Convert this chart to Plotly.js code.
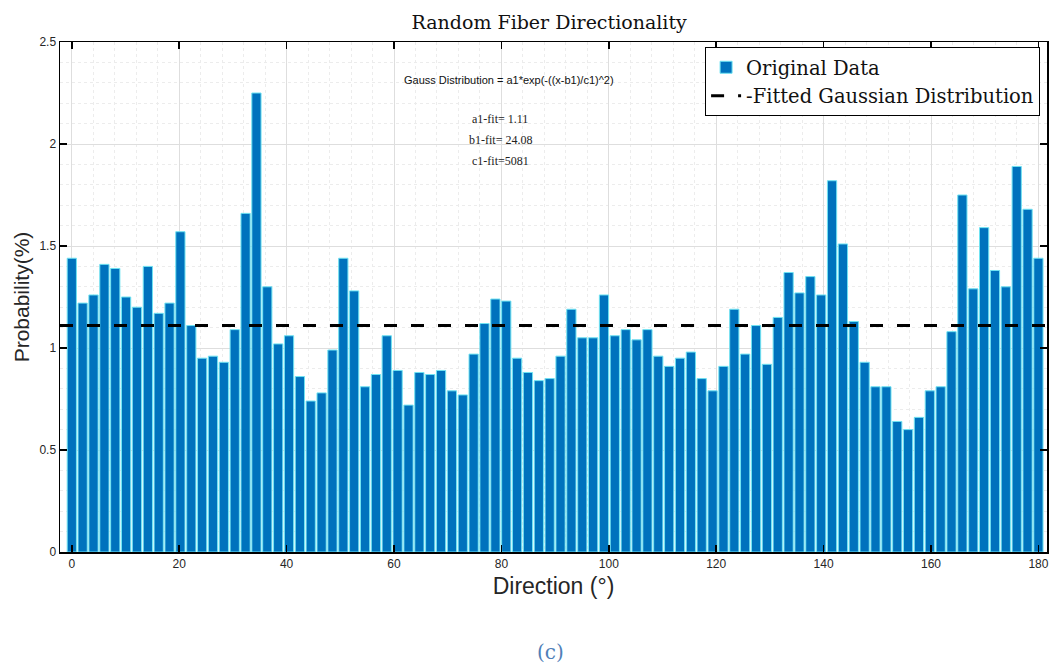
<!DOCTYPE html>
<html>
<head>
<meta charset="utf-8">
<script src="https://cdn.plot.ly/plotly-3.0.1.min.js"></script>
<style>
  html, body { margin: 0; padding: 0; background: #ffffff; }
  #chart { width: 1054px; height: 666px; }
</style>
</head>
<body>
<div id="chart"></div>
<script>
// Direction bins (degrees)
const directions = [0, 2.02, 4.04, 6.07, 8.09, 10.11, 12.13, 14.16, 16.18, 18.20,
  20.22, 22.25, 24.27, 26.29, 28.31, 30.34, 32.36, 34.38, 36.40, 38.43,
  40.45, 42.47, 44.49, 46.52, 48.54, 50.56, 52.58, 54.61, 56.63, 58.65,
  60.67, 62.70, 64.72, 66.74, 68.76, 70.79, 72.81, 74.83, 76.85, 78.88,
  80.90, 82.92, 84.94, 86.97, 88.99, 91.01, 93.03, 95.06, 97.08, 99.10,
  101.12, 103.15, 105.17, 107.19, 109.21, 111.24, 113.26, 115.28, 117.30, 119.33,
  121.35, 123.37, 125.39, 127.42, 129.44, 131.46, 133.48, 135.51, 137.53, 139.55,
  141.57, 143.60, 145.62, 147.64, 149.66, 151.69, 153.71, 155.73, 157.75, 159.78,
  161.80, 163.82, 165.84, 167.87, 169.89, 171.91, 173.93, 175.96, 177.98, 180];

// Probability (%) per bin
const probability = [1.44, 1.22, 1.26, 1.41, 1.39, 1.25, 1.20, 1.40, 1.17, 1.22,
  1.57, 1.11, 0.95, 0.96, 0.93, 1.09, 1.66, 2.25, 1.30, 1.02,
  1.06, 0.86, 0.74, 0.78, 0.99, 1.44, 1.28, 0.81, 0.87, 1.06,
  0.89, 0.72, 0.88, 0.87, 0.89, 0.79, 0.77, 0.97, 1.12, 1.24,
  1.23, 0.95, 0.88, 0.84, 0.85, 0.96, 1.19, 1.05, 1.05, 1.26,
  1.06, 1.09, 1.04, 1.09, 0.96, 0.91, 0.95, 0.98, 0.85, 0.79,
  0.91, 1.19, 0.97, 1.11, 0.92, 1.15, 1.37, 1.27, 1.35, 1.26,
  1.82, 1.51, 1.13, 0.93, 0.81, 0.81, 0.64, 0.60, 0.66, 0.79,
  0.81, 1.08, 1.75, 1.29, 1.59, 1.38, 1.30, 1.89, 1.68, 1.44];

// Fitted Gaussian (flat at a1 = 1.11 over the plotted range)
const fitX = [-2.2, 181.6];
const fitY = [1.11, 1.11];

const xTicks = [0, 20, 40, 60, 80, 100, 120, 140, 160, 180];
const yTicks = [0, 0.5, 1, 1.5, 2, 2.5];

const traces = [
  {
    type: 'bar',
    x: directions,
    y: probability,
    width: 1.72,
    name: 'Original Data',
    marker: { color: '#0072BD', line: { color: '#6fe3f2', width: 1 } },
    hoverinfo: 'x+y'
  },
  {
    type: 'scatter',
    mode: 'lines',
    x: fitX,
    y: fitY,
    name: '-Fitted Gaussian Distribution',
    line: { color: '#000000', width: 3, dash: '13px,14px' }
  }
];

const axisFont = { family: 'Liberation Sans Narrow, Liberation Sans, Arial, sans-serif', size: 12, color: '#262626' };

const layout = {
  width: 1054,
  height: 666,
  paper_bgcolor: '#ffffff',
  plot_bgcolor: '#ffffff',
  margin: { l: 60, r: 7, t: 42, b: 114 },
  showlegend: true,
  bargap: 0,
  title: {
    text: 'Random Fiber Directionality',
    font: { family: 'DejaVu Serif, Liberation Serif, serif', size: 19, color: '#111111' },
    x: 0.521, xanchor: 'center', y: 0.967, yanchor: 'middle'
  },
  xaxis: {
    range: [-2.2, 181.6],
    tickmode: 'array',
    tickvals: xTicks,
    ticktext: xTicks.map(String),
    ticks: 'inside',
    ticklen: 7,
    tickcolor: '#000000',
    tickwidth: 1.5,
    mirror: 'ticks',
    showline: true,
    linecolor: '#000000',
    linewidth: 1.5,
    showgrid: true,
    gridcolor: '#dedede',
    gridwidth: 1,
    minor: { dtick: 4, showgrid: true, gridcolor: '#ececec', griddash: 'dot', ticks: '' },
    zeroline: false,
    tickfont: axisFont,
    title: {
      text: 'Direction (°)',
      font: { family: 'Liberation Sans Narrow, Liberation Sans, Arial, sans-serif', size: 23, color: '#262626' },
      standoff: 8
    }
  },
  yaxis: {
    range: [0, 2.5],
    tickmode: 'array',
    tickvals: yTicks,
    ticktext: ['0', '0.5', '1', '1.5', '2', '2.5'],
    ticks: 'inside',
    ticklen: 7,
    tickcolor: '#000000',
    tickwidth: 1.5,
    mirror: 'ticks',
    showline: true,
    linecolor: '#000000',
    linewidth: 1.5,
    showgrid: true,
    gridcolor: '#dedede',
    gridwidth: 1,
    minor: { dtick: 0.1, showgrid: true, gridcolor: '#ececec', griddash: 'dot', ticks: '' },
    zeroline: false,
    tickfont: axisFont,
    title: {
      text: 'Probability(%)',
      font: { family: 'Liberation Sans, Arial, sans-serif', size: 21, color: '#262626' },
      standoff: 4
    }
  },
  legend: {
    x: 0.993, xanchor: 'right',
    y: 0.99, yanchor: 'top',
    bgcolor: '#ffffff',
    bordercolor: '#000000',
    borderwidth: 1,
    font: { family: 'DejaVu Serif, Liberation Serif, serif', size: 19.5, color: '#111111' },
    tracegroupgap: 0,
    itemwidth: 30
  },
  annotations: [
    {
      xref: 'paper', yref: 'paper', x: 0.455, y: 0.925, xanchor: 'center', yanchor: 'middle',
      text: 'Gauss Distribution = a1*exp(-((x-b1)/c1)^2)', showarrow: false,
      font: { family: 'Liberation Sans, Arial, sans-serif', size: 11, color: '#111111' }
    },
    {
      xref: 'paper', yref: 'paper', x: 0.446, y: 0.849, xanchor: 'center', yanchor: 'middle',
      text: 'a1-fit= 1.11', showarrow: false,
      font: { family: 'Liberation Serif, serif', size: 12, color: '#222222' }
    },
    {
      xref: 'paper', yref: 'paper', x: 0.446, y: 0.808, xanchor: 'center', yanchor: 'middle',
      text: 'b1-fit= 24.08', showarrow: false,
      font: { family: 'Liberation Serif, serif', size: 12, color: '#222222' }
    },
    {
      xref: 'paper', yref: 'paper', x: 0.446, y: 0.767, xanchor: 'center', yanchor: 'middle',
      text: 'c1-fit=5081', showarrow: false,
      font: { family: 'Liberation Serif, serif', size: 12, color: '#222222' }
    },
    {
      xref: 'paper', yref: 'paper', x: 0.497, y: -0.196, xanchor: 'center', yanchor: 'middle',
      text: '(c)', showarrow: false,
      font: { family: 'DejaVu Serif, Liberation Serif, serif', size: 20, color: '#4f7fb8' }
    }
  ]
};

Plotly.newPlot('chart', traces, layout, { displayModeBar: false, staticPlot: true });
</script>
</body>
</html>
